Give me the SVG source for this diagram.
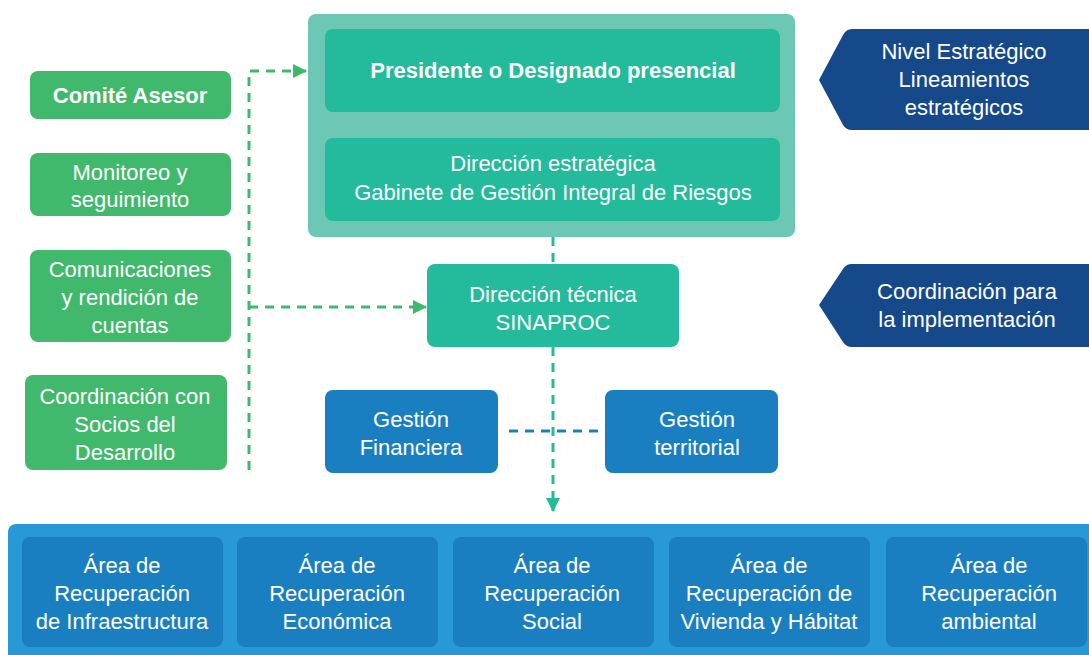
<svg xmlns="http://www.w3.org/2000/svg" width="1089" height="655" viewBox="0 0 1089 655">
<style>
text{font-family:"Liberation Sans",Arial,sans-serif;font-size:22px;fill:#ffffff;text-anchor:middle}
.b{font-weight:bold}
.green{fill:#41b96c}
.teal{fill:#23bb9b}
.tealc{fill:#6cc7b4}
.navy{fill:#16498a}
.blue{fill:#1a7fc1}
.bluec{fill:#2898d6}
.dg{fill:none;stroke:#3db96a;stroke-width:3;stroke-dasharray:9 7}
.dt{fill:none;stroke:#23bb9b;stroke-width:3;stroke-dasharray:9 7}
.db{fill:none;stroke:#1a7fc1;stroke-width:3;stroke-dasharray:9 7}
</style>
<defs>
<marker id="at" markerWidth="14" markerHeight="14" refX="13" refY="7" orient="auto" markerUnits="userSpaceOnUse" viewBox="0 0 14 14"><path d="M0,0 L14,7 L0,14 z" fill="#23bb9b"/></marker>
<marker id="ag2" markerWidth="14" markerHeight="14" refX="13" refY="7" orient="auto" markerUnits="userSpaceOnUse" viewBox="0 0 14 14"><path d="M0,0 L14,7 L0,14 z" fill="#3db96a"/></marker>
</defs>

<g id="connectors">
<path class="dg" d="M249,470 L249,71 L306,71" marker-end="url(#ag2)"/>
<path class="dg" d="M249,307 L426,307" marker-end="url(#ag2)"/>
<path class="dt" d="M553,237 L553,264"/>
<path class="dt" d="M553,347 L553,511" marker-end="url(#at)"/>
<path class="db" d="M509,431 L598,431"/>
</g>

<g id="comite"><rect class="green" x="30" y="71" width="201" height="48" rx="8"/><text class="b" x="130" y="103">Comité Asesor</text></g>
<g id="monitoreo"><rect class="green" x="30" y="153" width="201" height="63" rx="8"/><text x="130" y="180">Monitoreo y</text><text x="130" y="207">seguimiento</text></g>
<g id="comunicaciones"><rect class="green" x="30" y="250" width="201" height="92" rx="8"/><text x="130" y="277">Comunicaciones</text><text x="130" y="305">y rendición de</text><text x="130" y="333">cuentas</text></g>
<g id="socios"><rect class="green" x="25" y="375" width="202" height="95" rx="8"/><text x="125" y="404">Coordinación con</text><text x="125" y="432">Socios del</text><text x="125" y="460">Desarrollo</text></g>

<g id="nivel-estrategico-grupo"><rect class="tealc" x="308" y="14" width="487" height="223" rx="8"/></g>
<g id="presidente"><rect class="teal" x="325" y="29" width="455" height="83" rx="8"/><text class="b" x="553" y="78">Presidente o Designado presencial</text></g>
<g id="direccion-estrategica"><rect class="teal" x="325" y="138" width="455" height="83" rx="8"/><text x="553" y="171">Dirección estratégica</text><text x="553" y="200">Gabinete de Gestión Integral de Riesgos</text></g>

<g id="direccion-tecnica"><rect class="teal" x="427" y="264" width="252" height="83" rx="8"/><text x="553" y="302">Dirección técnica</text><text x="553" y="330">SINAPROC</text></g>

<g id="gestion-financiera"><rect class="blue" x="325" y="390" width="173" height="83" rx="8"/><text x="411" y="427">Gestión</text><text x="411" y="455">Financiera</text></g>
<g id="gestion-territorial"><rect class="blue" x="605" y="390" width="173" height="83" rx="8"/><text x="697" y="427">Gestión</text><text x="697" y="455">territorial</text></g>

<g id="nivel-estrategico"><path class="navy" d="M852,29 L1089,29 L1089,130 L852,130 Q846,130 843,125 L819,80 L843,35 Q846,29 852,29 z"/><text x="964" y="59">Nivel Estratégico</text><text x="964" y="87">Lineamientos</text><text x="964" y="115">estratégicos</text></g>
<g id="coordinacion-implementacion"><path class="navy" d="M852,264 L1089,264 L1089,347 L852,347 Q846,347 843,342 L819,305 L843,269 Q846,264 852,264 z"/><text x="967" y="299">Coordinación para</text><text x="967" y="327">la implementación</text></g>

<g id="areas"><rect class="bluec" x="8" y="524" width="1100" height="140" rx="8"/></g>
<g id="area-infraestructura"><rect class="blue" x="22" y="537" width="201" height="110" rx="8"/><text x="122" y="573">Área de</text><text x="122" y="601">Recuperación</text><text x="122" y="629">de Infraestructura</text></g>
<g id="area-economica"><rect class="blue" x="237" y="537" width="201" height="110" rx="8"/><text x="337" y="573">Área de</text><text x="337" y="601">Recuperación</text><text x="337" y="629">Económica</text></g>
<g id="area-social"><rect class="blue" x="453" y="537" width="201" height="110" rx="8"/><text x="552" y="573">Área de</text><text x="552" y="601">Recuperación</text><text x="552" y="629">Social</text></g>
<g id="area-vivienda"><rect class="blue" x="669" y="537" width="201" height="110" rx="8"/><text x="769" y="573">Área de</text><text x="769" y="601">Recuperación de</text><text x="769" y="629">Vivienda y Hábitat</text></g>
<g id="area-ambiental"><rect class="blue" x="886" y="537" width="201" height="110" rx="8"/><text x="989" y="573">Área de</text><text x="989" y="601">Recuperación</text><text x="989" y="629">ambiental</text></g>
</svg>
